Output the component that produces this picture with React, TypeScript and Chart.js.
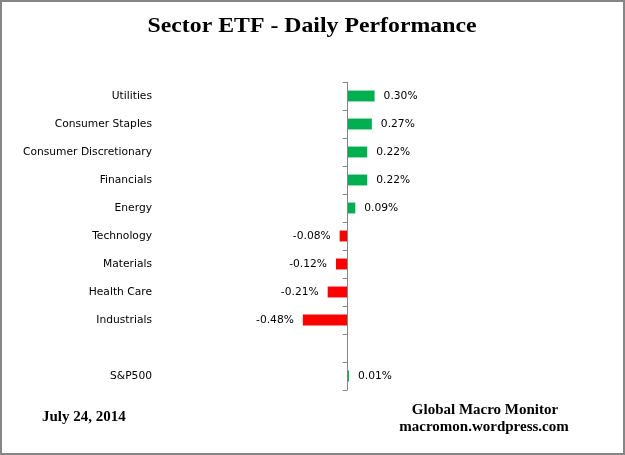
import React, { useEffect, useRef } from "react";
import { Chart, registerables } from "chart.js";

Chart.register(...registerables);

const categories = [
  "Utilities",
  "Consumer Staples",
  "Consumer Discretionary",
  "Financials",
  "Energy",
  "Technology",
  "Materials",
  "Health Care",
  "Industrials",
  "",
  "S&P500",
];

const values: (number | null)[] = [0.3, 0.27, 0.22, 0.22, 0.09, -0.08, -0.12, -0.21, -0.48, null, 0.01];

const valueLabels = ["0.30%", "0.27%", "0.22%", "0.22%", "0.09%", "-0.08%", "-0.12%", "-0.21%", "-0.48%", "", "0.01%"];

const titleText = "Sector ETF - Daily Performance";
const dateText = "July 24, 2014";
const creditLines = ["Global Macro Monitor", "macromon.wordpress.com"];

const GREEN = "#00B050";
const RED = "#FF0000";
const AXIS = "#868686";
const LABEL_FONT = '10.7px "DejaVu Sans"';

export default function App() {
  const ref = useRef<HTMLCanvasElement | null>(null);

  useEffect(() => {
    document.body.style.margin = "0";
    const canvas = ref.current;
    if (!canvas) return;

    const decor = {
      id: "decor",
      beforeDraw(chart: any) {
        const ctx = chart.ctx;
        ctx.save();
        ctx.fillStyle = "#ffffff";
        ctx.fillRect(0, 0, chart.width, chart.height);
        ctx.restore();
      },
      afterDatasetsDraw(chart: any) {
        const ctx = chart.ctx;
        const xs = chart.scales.x;
        const area = chart.chartArea;
        const x0 = Math.round(xs.getPixelForValue(0)) + 0.5;
        const n = categories.length;
        const band = (area.bottom - area.top) / n;
        ctx.save();
        ctx.strokeStyle = AXIS;
        ctx.lineWidth = 1;
        ctx.beginPath();
        ctx.moveTo(x0, area.top);
        ctx.lineTo(x0, area.bottom);
        for (let i = 0; i <= n; i++) {
          const y = Math.round(area.top + i * band) + 0.5;
          ctx.moveTo(x0 - 5, y);
          ctx.lineTo(x0, y);
        }
        ctx.stroke();

        // value labels
        const meta = chart.getDatasetMeta(0);
        ctx.font = LABEL_FONT;
        ctx.fillStyle = "#000000";
        ctx.textBaseline = "middle";
        meta.data.forEach((el: any, i: number) => {
          const v = values[i];
          if (v === null || v === undefined) return;
          if (v >= 0) {
            ctx.textAlign = "left";
            ctx.fillText(valueLabels[i], el.x + 9, el.y);
          } else {
            ctx.textAlign = "right";
            ctx.fillText(valueLabels[i], el.x - 9, el.y);
          }
        });

        // title
        ctx.fillStyle = "#000000";
        ctx.font = 'bold 22px "Liberation Serif"';
        ctx.textAlign = "center";
        ctx.textBaseline = "alphabetic";
        const w = ctx.measureText(titleText).width;
        const sx = 329 / w;
        ctx.save();
        ctx.translate(312, 32);
        ctx.scale(sx, 1);
        ctx.fillText(titleText, 0, 0);
        ctx.restore();

        // footer
        ctx.font = 'bold 15px "Liberation Serif"';
        ctx.textAlign = "left";
        ctx.fillText(dateText, 42, 421);
        ctx.textAlign = "center";
        ctx.fillText(creditLines[0], 485, 414);
        ctx.fillText(creditLines[1], 484, 431);

        // border
        ctx.strokeStyle = AXIS;
        ctx.lineWidth = 2;
        ctx.strokeRect(1, 1, chart.width - 2, chart.height - 2);
        ctx.restore();
      },
    };

    const chart = new Chart(canvas, {
      type: "bar",
      data: {
        labels: categories,
        datasets: [
          {
            data: values as any,
            backgroundColor: values.map((v) => (v !== null && v < 0 ? RED : GREEN)),
            borderWidth: 0,
            categoryPercentage: 1,
            barPercentage: 0.39,
            minBarLength: 2,
          },
        ],
      },
      options: {
        indexAxis: "y",
        responsive: false,
        animation: false,
        layout: { padding: { left: 0, right: 94, top: 82, bottom: 65 } },
        plugins: {
          legend: { display: false },
          title: { display: false },
          tooltip: { enabled: false },
        },
        scales: {
          x: {
            display: false,
            min: -2,
            max: 2,
          },
          y: {
            type: "category",
            grid: { display: false, drawTicks: false },
            border: { display: false },
            ticks: {
              color: "#000000",
              font: { family: "DejaVu Sans", size: 10.7 },
              padding: 11,
              autoSkip: false,
            },
            afterFit(scale: any) {
              scale.width = 163;
            },
          },
        },
      },
      plugins: [decor],
    });

    return () => chart.destroy();
  }, []);

  return (
    <div style={{ width: 625, height: 455 }}>
      <canvas ref={ref} width={625} height={455} style={{ display: "block" }} />
    </div>
  );
}
